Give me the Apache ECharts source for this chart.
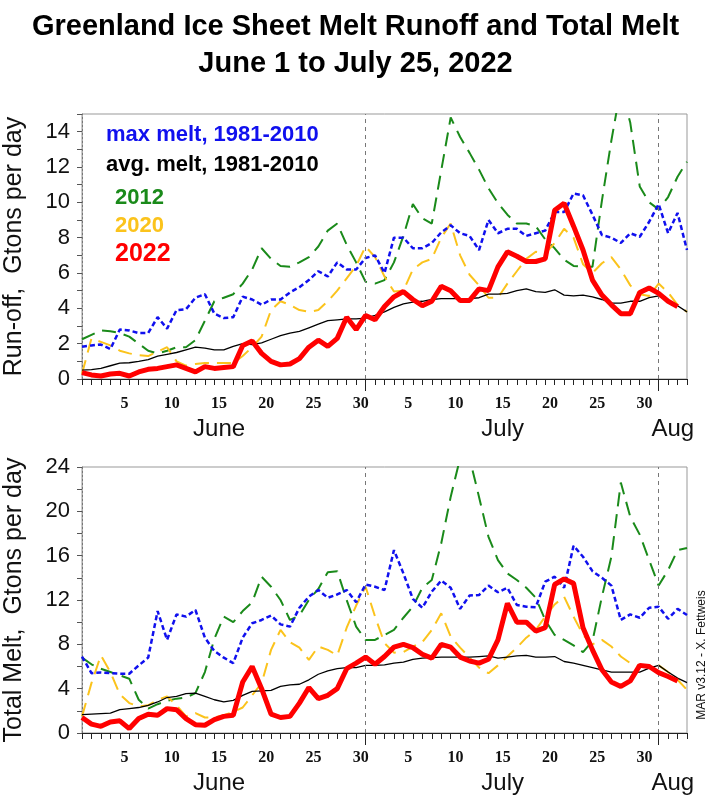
<!DOCTYPE html>
<html><head><meta charset="utf-8">
<script src="https://cdn.jsdelivr.net/npm/echarts@6/dist/echarts.min.js"></script>
<style>html,body{margin:0;padding:0;background:#fff}#c{width:711px;height:800px}</style>
</head><body><div id="c"></div>
<script>
// ---- data (index 0 = June 1) ----
const juneTickLabels = ['5','10','15','20','25','30'];
const julyTickLabels = ['5','10','15','20','25','30'];
const monthNames = ['June','July','Aug'];
const monthLabelDay = [15, 45, 63];   // day index (June 1 = 1) under which the month name is centred
const monthLengths = [30, 31];        // June, July

const maxRun = [1.83,1.9,1.95,1.7,2.8,2.75,2.6,2.6,3.5,2.85,3.9,3.95,4.6,4.8,3.7,3.45,3.5,4.66,4.5,4.2,4.5,4.5,4.9,5.2,5.6,6.1,5.8,6.6,6.2,6.2,6.85,7.0,6.0,8.0,8.0,7.4,7.4,7.7,8.3,8.7,8.25,8.1,7.3,9.0,8.25,8.5,8.5,8.1,8.25,8.4,9.45,9.45,10.5,10.4,9.3,8.15,8.0,7.7,8.25,8.05,8.9,9.9,8.25,9.4,7.3];
const avgRun = [0.5,0.53,0.6,0.75,0.9,0.92,1.0,1.1,1.3,1.4,1.5,1.65,1.8,1.75,1.65,1.65,1.85,2.0,1.95,2.05,2.25,2.45,2.6,2.7,2.9,3.1,3.3,3.35,3.4,3.4,3.45,3.6,3.8,4.05,4.25,4.35,4.4,4.5,4.55,4.55,4.55,4.55,4.6,4.8,4.8,4.85,5.0,5.1,4.95,4.9,5.05,4.75,4.7,4.75,4.65,4.5,4.3,4.3,4.4,4.4,4.6,4.7,4.4,4.15,3.8];
const run2012 = [2.25,2.5,2.75,2.7,2.6,2.4,2.0,1.6,1.45,1.6,1.8,1.8,2.2,3.3,4.4,4.6,4.8,5.4,6.2,7.4,6.8,6.4,6.35,6.6,6.9,7.5,8.4,8.8,7.6,6.6,5.5,5.4,5.6,6.6,8.1,9.9,9.1,8.8,11.8,14.8,13.7,12.8,11.85,10.8,9.95,9.3,8.8,8.8,8.65,7.9,7.4,6.75,6.4,6.35,6.35,10.1,13.5,16.5,14.5,10.9,10.0,9.6,10.3,11.45,12.3];
const run2020 = [0.3,2.3,2.1,1.9,1.6,1.45,1.35,1.3,1.55,1.8,1.0,0.75,0.85,0.9,0.9,0.9,0.9,1.3,1.8,2.4,3.9,4.4,4.2,3.9,3.8,3.9,4.4,5.0,5.7,6.4,7.5,6.9,5.8,4.95,5.0,6.2,6.6,6.8,8.0,8.8,7.0,5.9,5.3,4.6,4.6,5.4,6.1,6.8,7.2,7.1,7.7,8.5,8.0,6.5,6.0,6.55,6.9,6.2,5.3,4.8,4.7,5.4,4.9,4.2,3.8];
const run2022 = [0.36,0.23,0.17,0.28,0.32,0.17,0.4,0.55,0.6,0.7,0.8,0.6,0.4,0.7,0.6,0.65,0.7,1.9,2.15,1.45,1.0,0.8,0.85,1.15,1.8,2.2,1.85,2.3,3.5,2.8,3.6,3.35,4.1,4.65,4.95,4.5,4.15,4.4,5.25,5.0,4.45,4.45,5.1,5.0,6.35,7.2,6.95,6.65,6.65,6.8,9.55,9.95,8.65,7.3,5.6,4.75,4.2,3.7,3.7,4.9,5.15,4.85,4.4,4.1];

const maxMelt = [6.9,5.4,5.45,5.4,5.35,5.35,6.1,6.8,11.0,8.4,10.7,10.5,11.1,8.6,7.4,6.8,6.3,8.6,9.9,10.2,10.6,9.8,9.6,11.3,12.3,12.9,12.2,12.5,12.9,11.8,13.4,13.2,12.9,16.5,14.4,12.1,11.3,12.75,13.75,13.1,11.2,12.4,12.45,13.3,12.7,13.1,11.55,11.4,11.35,13.65,14.1,13.1,16.9,15.9,14.6,14.0,13.3,10.2,10.7,10.4,11.3,11.4,10.3,11.2,10.65];
const avgMelt = [1.65,1.7,1.75,1.8,2.1,2.2,2.3,2.5,2.8,3.2,3.3,3.55,3.6,3.3,3.0,2.8,2.95,3.4,3.75,3.8,3.85,4.2,4.35,4.4,4.8,5.3,5.6,5.8,5.9,5.9,6.1,6.1,6.15,6.3,6.4,6.65,6.75,6.8,6.85,6.85,6.85,6.85,6.9,6.95,6.75,6.85,6.95,7.0,6.85,6.85,6.9,6.45,6.3,6.1,5.9,5.7,5.5,5.5,5.5,5.5,5.85,6.1,5.5,4.95,4.55];
const melt2012 = [6.8,6.2,5.8,5.5,5.2,4.9,3.0,2.2,2.6,2.9,3.1,3.2,3.6,5.5,8.5,10.5,10.0,11.0,11.8,14.1,13.2,12.0,10.2,10.6,12.0,13.0,14.5,14.6,12.0,9.6,8.4,8.4,8.85,9.3,10.4,11.4,13.1,13.8,17.1,21.3,24.8,24.8,21.3,17.7,15.6,14.4,13.8,13.1,12.2,10.2,8.85,8.4,7.9,7.3,8.3,12.3,15.9,22.6,19.5,17.9,15.6,13.3,14.7,16.5,16.7];
const melt2020 = [1.5,4.5,7.0,5.5,3.5,2.7,2.4,2.5,3.0,3.3,2.5,1.5,1.8,1.4,1.4,1.6,1.9,2.3,3.4,4.5,7.5,9.3,8.2,7.7,6.6,7.8,7.5,7.0,9.5,11.5,13.2,10.5,8.1,7.25,7.3,7.8,8.2,9.3,10.8,8.7,7.7,6.8,5.9,5.4,6.1,6.9,7.7,8.6,9.3,10.5,11.6,12.3,10.5,8.85,8.0,8.4,7.8,6.9,6.3,6.0,6.1,6.1,5.5,4.8,3.9];
const melt2022 = [1.4,0.8,0.6,1.0,1.1,0.4,1.3,1.7,1.6,2.2,2.1,1.3,0.75,0.7,1.2,1.5,1.6,4.6,6.0,4.0,1.7,1.4,1.5,2.7,4.1,3.1,3.4,4.0,5.8,6.3,6.85,6.2,6.9,7.75,8.0,7.7,7.1,6.75,8.0,7.75,6.85,6.5,6.3,6.65,8.4,11.7,10.0,10.0,9.2,9.5,13.4,13.9,13.5,9.5,7.5,5.7,4.6,4.2,4.7,6.1,6.0,5.45,5.1,4.7];

const seriesNames = ['max melt, 1981-2010','avg. melt, 1981-2010','2012','2020','2022'];
const seriesColors = ['#1010ee','#000000','#1a8a1a','#fbc31c','#ff0000'];

// ---- derived helpers ----
const totalDays = 64;
const tickLabelMap = {};
juneTickLabels.forEach(l => { tickLabelMap[String(+l - 0.5)] = l; });
julyTickLabels.forEach(l => { tickLabelMap[String(monthLengths[0] + +l - 0.5)] = l; });
const tickLabelPos = Object.keys(tickLabelMap).map(Number);
const monthMap = {};
monthNames.forEach((m, i) => { monthMap[String(monthLabelDay[i] - 0.5)] = m; });
const monthPos = Object.keys(monthMap).map(Number);
const monthEnds = [monthLengths[0], monthLengths[0] + monthLengths[1]];
const pairs = arr => arr.map((v, i) => [i, v]);

function xAxes(g) {
  return [
    { type:'value', gridIndex:g, min:0, max:totalDays, interval:1,
      axisLine:{show:true, onZero:false, lineStyle:{color:'#222', width:1}},
      axisTick:{show:true, length:6, lineStyle:{color:'#222'}},
      axisLabel:{customValues:tickLabelPos, formatter:v => tickLabelMap[String(v)] || '',
        fontFamily:'Liberation Serif', fontWeight:'bold', fontSize:16, color:'#111', margin:17},
      splitLine:{show:false} },
    { type:'value', gridIndex:g, min:0, max:totalDays, position:'bottom',
      axisLine:{show:false, onZero:false},
      axisTick:{show:true, customValues:monthEnds, length:12, lineStyle:{color:'#222'}},
      axisLabel:{customValues:monthPos, formatter:v => monthMap[String(v)] || '',
        fontSize:24, color:'#111', margin:38},
      splitLine:{show:false} }
  ];
}
function yAxis(g, max, step, name) {
  const labs = []; for (let v = 0; v <= max; v += step) labs.push(v);
  return { type:'value', gridIndex:g, min:0, max:max, interval:step/2,
    axisLine:{show:true, lineStyle:{color:'#777', type:[2,2]}},
    axisTick:{show:true, length:5, lineStyle:{color:'#555'}},
    axisLabel:{customValues:labs, fontSize:22, color:'#111', margin:12},
    splitLine:{show:false},
    name:name, nameLocation:'middle', nameGap:55,
    nameTextStyle:{fontSize:25, color:'#111'} };
}
function panelSeries(g, sets) {
  const xi = g * 2;
  const styles = [
    {width:2.5, type:[5,3]},
    {width:1.3, type:'solid'},
    {width:2, type:[14,8]},
    {width:2, type:[14,8]},
    {width:5, type:'solid'}
  ];
  const order = [2,3,1,0,4];
  return order.map(i => {
    const s = { type:'line', name:seriesNames[i], xAxisIndex:xi, yAxisIndex:g,
      data:pairs(sets[i]), symbol:'none', showSymbol:false, clip:true,
      lineStyle:Object.assign({color:seriesColors[i]}, styles[i]),
      itemStyle:{color:seriesColors[i]}, z: i === 4 ? 5 : 3 };
    if (i === 1) {
      s.markLine = { silent:true, symbol:['none','none'], label:{show:false},
        lineStyle:{color:'#777', type:[4,4], width:1},
        data: monthEnds.map(v => ({xAxis:v})) };
    }
    return s;
  });
}

const chart = echarts.init(document.getElementById('c'), null, {renderer:'canvas'});
chart.setOption({
  animation:false,
  backgroundColor:'#fff',
  textStyle:{fontFamily:'Liberation Sans, Arial, sans-serif'},
  title:{ text:'Greenland Ice Sheet Melt Runoff and Total Melt\nJune 1 to July 25, 2022',
    left:'center', top:3,
    textStyle:{fontSize:29, fontWeight:'bold', lineHeight:37, color:'#000', fontFamily:'Liberation Sans'} },
  legend:[
    { orient:'vertical', left:96, top:118, itemWidth:0, itemHeight:10, icon:'none', itemGap:6, selectedMode:false,
      textStyle:{fontSize:22, fontWeight:'bold', lineHeight:24},
      data:[{name:seriesNames[0], textStyle:{color:seriesColors[0]}},
            {name:seriesNames[1], textStyle:{color:seriesColors[1]}}] },
    { orient:'vertical', left:105, top:180, itemWidth:0, itemHeight:10, icon:'none', itemGap:2, selectedMode:false,
      textStyle:{fontSize:22, fontWeight:'bold', lineHeight:26},
      data:[{name:seriesNames[2], textStyle:{color:seriesColors[2]}},
            {name:seriesNames[3], textStyle:{color:seriesColors[3]}},
            {name:seriesNames[4], textStyle:{color:seriesColors[4], fontSize:25}}] }
  ],
  grid:[
    {left:82, right:24, top:114, height:265, show:true, borderColor:'#999', borderWidth:1, backgroundColor:'transparent', outerBoundsMode:'none', containLabel:false},
    {left:82, right:24, top:467, height:266, show:true, borderColor:'#999', borderWidth:1, backgroundColor:'transparent', outerBoundsMode:'none', containLabel:false}
  ],
  xAxis:[...xAxes(0), ...xAxes(1)],
  yAxis:[ yAxis(0, 15, 2, 'Run-off,  Gtons per day'), yAxis(1, 24, 4, 'Total Melt,  Gtons per day') ],
  series:[
    ...panelSeries(0, [maxRun, avgRun, run2012, run2020, run2022]),
    ...panelSeries(1, [maxMelt, avgMelt, melt2012, melt2020, melt2022])
  ],
  graphic:[
    { type:'text', x:702, y:655, rotation:Math.PI/2,
      style:{text:'MAR v3.12 - X. Fettweis', fontSize:12, fill:'#111', align:'center', verticalAlign:'middle',
        fontFamily:'Liberation Sans'} }
  ]
});
</script>
</body></html>
